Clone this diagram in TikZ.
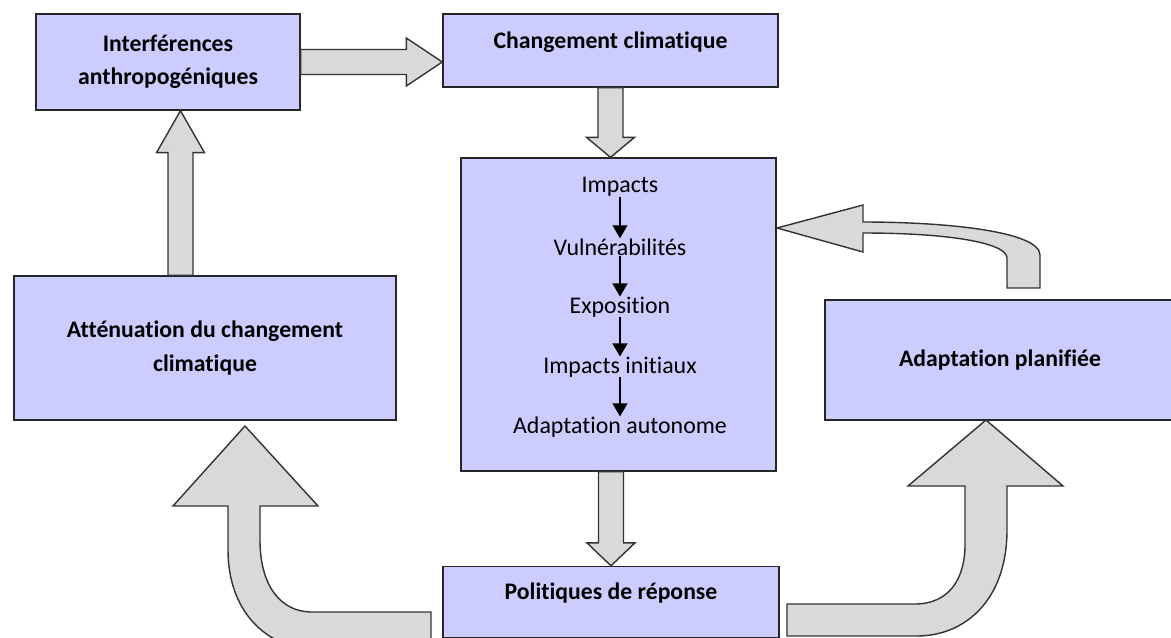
\documentclass[tikz,border=0pt]{standalone}
\usepackage{fontspec}
\setmainfont[Ligatures=NoCommon]{Carlito}
\usetikzlibrary{positioning,calc,arrows.meta}

\begin{document}
\begin{tikzpicture}[x=0.02cm, y=-0.02cm, node distance=1.2cm,
  main box/.style={rectangle,fill=blue!20,draw=black!85,line width=0.8pt,align=center,
    font=\fontsize{13.5}{19}\selectfont\bfseries},
  list item/.style={inner sep=0pt,font=\fontsize{13.6}{16}\selectfont},
  block arrow/.style={fill=gray!30,draw=black!80,line width=0.8pt,
    to path={
      ($(\tikztostart)!0.25cm!90:(\tikztotarget)$)
      -- ($($(\tikztotarget)!#1!(\tikztostart)$)!0.25cm!90:(\tikztotarget)$)
      -- ($($(\tikztotarget)!#1!(\tikztostart)$)!0.48cm!90:(\tikztotarget)$)
      -- (\tikztotarget)
      -- ($($(\tikztotarget)!#1!(\tikztostart)$)!0.48cm!-90:(\tikztotarget)$)
      -- ($($(\tikztotarget)!#1!(\tikztostart)$)!0.25cm!-90:(\tikztotarget)$)
      -- ($(\tikztostart)!0.25cm!-90:(\tikztotarget)$)
      -- cycle}},
  block arrow/.default=0.6cm,
  bent arrow/.style={fill=gray!30,draw=black!80,line width=0.8pt}]

  \useasboundingbox (0,0) rectangle (1171,637);
  \clip (0,0) rectangle (1171,637);

  \node[main box, minimum width=5.28cm, minimum height=1.92cm] (interf) at (168,62)
    {Interférences\\anthropogéniques};
  \node[main box, minimum width=6.7cm, minimum height=1.46cm, text depth=0.42cm] (change) at (610.5,50.5)
    {Changement climatique};
  \node[main box, minimum width=6.3cm, minimum height=6.26cm] (impacts) at (618.5,314.5) {};
  \node[main box, minimum width=7.64cm, minimum height=2.88cm] (atten) at (205,348)
    {Atténuation du changement\\climatique};
  \node[main box, minimum width=7cm, minimum height=2.4cm] (adapt) at (1000,360)
    {Adaptation planifiée};
  \node[main box, minimum width=6.72cm, minimum height=1.42cm, text depth=0.42cm] (polit) at (611,602)
    {Politiques de réponse};

  % chain inside the central box
  \node[list item] (i1) at (620,187) {Impacts};
  \node[list item] (i2) [below of=i1] {Vulnérabilités};
  \node[list item] (i3) [below of=i2] {Exposition};
  \node[list item] (i4) [below of=i3] {Impacts initiaux};
  \node[list item] (i5) [below of=i4] {Adaptation autonome};

  \foreach \a/\b in {i1/i2, i2/i3, i3/i4, i4/i5}
    \draw[-{Triangle[width=0.3cm,length=0.26cm]}, line width=0.6pt] (\a) -- (\b);

  % straight block arrows
  \coordinate (up) at ($(atten.north)+(-24.5,0)$);
  \draw[block arrow=0.72cm] (interf.east) to (interf.east -| change.west);
  \draw[block arrow=0.4cm] (change.south) to (change.south |- impacts.north);
  \draw[block arrow=0.84cm] (up) to (up |- interf.south);
  \draw[block arrow=0.46cm] (polit.north |- impacts.south) to (polit.north);

  % bent block arrows
  \draw[bent arrow] (431,612) -- (431,650) -- (320,650)
    .. controls (265,650) and (228,610) .. (228,550) -- (228,506) -- (173,506)
    -- (245,426) -- (318,506) -- (260,506) -- (260,540)
    .. controls (260,585) and (280,612) .. (312,612) -- cycle;
  \draw[bent arrow] (787,604) -- (915,604)
    .. controls (948,604) and (965,580) .. (965,545) -- (965,486) -- (908,486)
    -- (986,420) -- (1063,486) -- (1007,486) -- (1007,530)
    .. controls (1007,600) and (965,636) .. (917,636) -- (787,636) -- cycle;
  \draw[bent arrow] (1040,288) -- (1040,255)
    .. controls (1040,232) and (950,222) .. (863,222) -- (863,205)
    -- (777,228) -- (863,252) -- (863,233)
    .. controls (950,233) and (1007,243) .. (1007,258) -- (1007,288) -- cycle;
\end{tikzpicture}
\end{document}
